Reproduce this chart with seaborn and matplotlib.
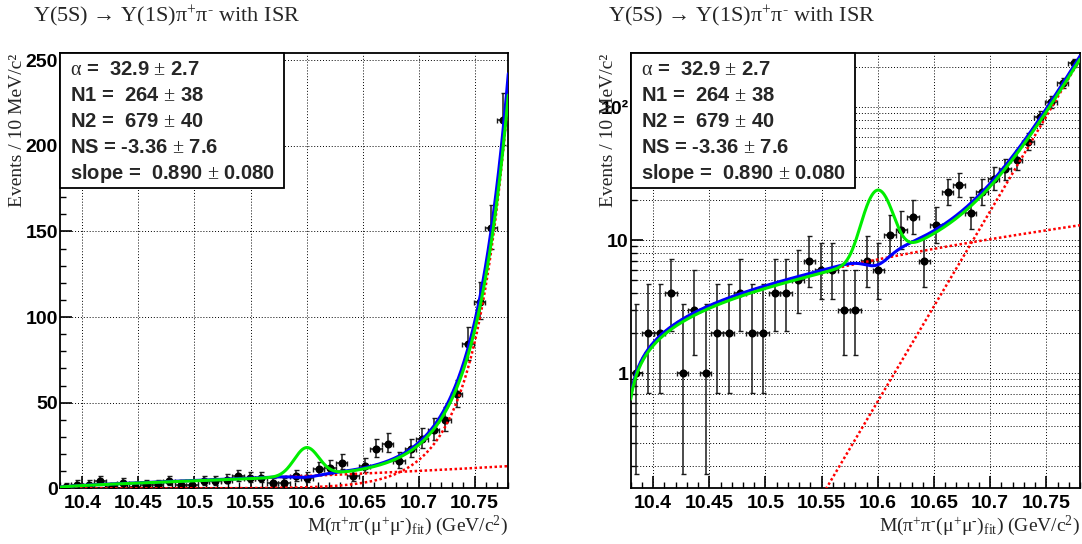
import math
import numpy as np
import pandas as pd
import matplotlib
matplotlib.use("Agg")
import matplotlib.pyplot as plt
import matplotlib.ticker as mticker
from matplotlib.patches import Rectangle
import seaborn as sns

# ---------------- data ----------------
mass_lo, mass_hi, n_bins = 10.38, 10.78, 39
counts = [1, 2, 2, 4, 1, 3, 1, 2, 2, 4,
          2, 2, 4, 4, 5, 7, 6, 6, 3, 3,
          7, 6, 11, 12, 15, 7, 13, 23, 26, 16,
          23, 29, 34, 40, 55, 84, 109, 152, 215]

# fit parameters (nominal fit, blue)
alpha = 32.9
n1 = 264.0
n2 = 679.0
ns = -3.36
peak_mass = 10.60
peak_sigma = 0.011
isr_threshold = 10.376
isr_growth = 1.65
# alternative fit with signal (green)
n1_alt = 252.0
n2_alt = 644.0
ns_alt = 44.0

stat_lines = [r"$\mathrm{\alpha}$ =  32.9 $\pm$ 2.7",
              r"N1 =  264 $\pm$ 38",
              r"N2 =  679 $\pm$ 40",
              r"NS = -3.36 $\pm$ 7.6",
              r"slope =  0.890 $\pm$ 0.080"]
x_major = [10.4, 10.45, 10.5, 10.55, 10.6, 10.65, 10.7, 10.75]
y_major_lin = [0, 50, 100, 150, 200, 250]
log_labels = {1: "1", 10: "10", 100: "10²"}
title_text = "Υ(5S) → Υ(1S)π$^{+}$π$^{\u2010}$ with ISR"
xlabel_text = "M(π$^{+}$π$^{\u2010}$(μ$^{+}$μ$^{\u2010}$)$_{\\mathrm{fit}}$) (GeV/c$^{2}$)"
ylabel_text = "Events / 10 MeV/c²"

# ---------------- derived ----------------
bw = (mass_hi - mass_lo) / n_bins
centers = mass_lo + bw * (np.arange(n_bins) + 0.5)
cnt = np.array(counts, dtype=float)


def pois_cdf(k, mu):
    if k < 0:
        return 0.0
    s, term = 0.0, math.exp(-mu)
    for i in range(k + 1):
        if i > 0:
            term *= mu / i
        s += term
    return s


def bisect(f, lo, hi):
    for _ in range(80):
        mid = 0.5 * (lo + hi)
        if f(mid) > 0:
            lo = mid
        else:
            hi = mid
    return 0.5 * (lo + hi)


q = 0.158655
err_lo, err_hi = [], []
for n in counts:
    up = bisect(lambda m: pois_cdf(n, m) - q, 0.0, n + 50.0)
    lo = 0.0 if n == 0 else bisect(lambda m: pois_cdf(n - 1, m) - (1 - q), 0.0, n + 50.0)
    err_lo.append(n - lo)
    err_hi.append(up - n)

xs = np.linspace(mass_lo, mass_hi, 1200)
g = np.sqrt(xs - isr_threshold) * np.exp(isr_growth * (xs - isr_threshold))
bkg1_shape = bw * g / np.trapezoid(g, xs)
bkg2_shape = bw * alpha * np.exp(alpha * (xs - mass_hi)) / (1 - np.exp(-alpha * (mass_hi - mass_lo)))
sig_shape = bw * np.exp(-0.5 * ((xs - peak_mass) / peak_sigma) ** 2) / (peak_sigma * np.sqrt(2 * np.pi))

curves = pd.DataFrame({
    "x": xs,
    "bkg1": n1 * bkg1_shape,
    "bkg2": n2 * bkg2_shape,
    "total": n1 * bkg1_shape + n2 * bkg2_shape + ns * sig_shape,
    "alt": n1_alt * bkg1_shape + n2_alt * bkg2_shape + ns_alt * sig_shape,
})
points = pd.DataFrame({"x": centers, "y": cnt})

# ---------------- style ----------------
sns.set_theme(style="white")
plt.rcParams["font.family"] = ["Liberation Sans", "DejaVu Sans"]
plt.rcParams["font.weight"] = "bold"
plt.rcParams["mathtext.fontset"] = "custom"
plt.rcParams["mathtext.rm"] = "Liberation Serif:weight=normal"
plt.rcParams["mathtext.it"] = "Liberation Serif:italic:weight=normal"
plt.rcParams["mathtext.bf"] = "Liberation Serif:bold"
plt.rcParams["axes.linewidth"] = 1.3

fig = plt.figure(figsize=(10.82, 5.44), dpi=100)
W, H = 1082.0, 544.0
ax_lin = fig.add_axes([60 / W, 1 - 488.3 / H, 448.3 / W, 435 / H])
ax_log = fig.add_axes([630.7 / W, 1 - 488.3 / H, 449.3 / W, 435 / H])

for ax, is_log in ((ax_lin, False), (ax_log, True)):
    if is_log:
        ax.set_yscale("log")
    ax.errorbar(centers, cnt, yerr=[err_lo, err_hi], xerr=bw / 2, fmt="none",
                ecolor="#1a1a1a", elinewidth=1.1, capsize=1.8, capthick=1.0, zorder=3)
    sns.scatterplot(data=points, x="x", y="y", ax=ax, color="black", s=34,
                    edgecolor="black", linewidth=0, zorder=4, legend=False)
    for col, color, lw, ls, z in (("bkg1", "#ff0000", 1.8, (0, (1, 1)), 5),
                                  ("bkg2", "#ff0000", 1.8, (0, (1, 1)), 5),
                                  ("total", "#0000ff", 2.2, "-", 6),
                                  ("alt", "#00ee00", 2.2, "-", 7)):
        sns.lineplot(data=curves, x="x", y=col, ax=ax, color=color, linewidth=lw,
                     linestyle=ls, sort=False, estimator=None, zorder=z, legend=False)

    ax.set_xlim(mass_lo, mass_hi)
    ax.xaxis.set_major_locator(mticker.FixedLocator(x_major))
    ax.xaxis.set_minor_locator(mticker.MultipleLocator(0.01))
    ax.xaxis.set_major_formatter(mticker.FuncFormatter(lambda v, p: f"{v:g}"))
    if is_log:
        ax.set_ylim(0.136, 254)
        ax.yaxis.set_major_locator(mticker.FixedLocator(list(log_labels.keys())))
        ax.yaxis.set_major_formatter(mticker.FuncFormatter(lambda v, p: log_labels.get(int(round(v)), "")))
        ax.yaxis.set_minor_locator(mticker.LogLocator(base=10, subs=np.arange(2, 10)))
        ax.yaxis.set_minor_formatter(mticker.NullFormatter())
        ax.yaxis.grid(True, which="both", color="black", linestyle=(0, (1, 2)), linewidth=0.7)
    else:
        ax.set_ylim(0, 254)
        ax.yaxis.set_major_locator(mticker.FixedLocator(y_major_lin))
        ax.yaxis.set_minor_locator(mticker.MultipleLocator(10))
        ax.yaxis.grid(True, which="major", color="black", linestyle=(0, (1, 2)), linewidth=0.7)
    ax.xaxis.grid(True, which="major", color="black", linestyle=(0, (1, 2)), linewidth=0.7)
    ax.set_axisbelow(True)
    ax.tick_params(which="both", direction="in", top=False, right=False,
                   bottom=True, left=True, labelsize=14, colors="black")
    ax.tick_params(which="major", length=8.6, width=1.2)
    ax.tick_params(which="minor", length=4.3, width=1.0)
    ax.tick_params(axis="x", pad=5)
    ax.tick_params(axis="y", pad=1.5)
    for s in ax.spines.values():
        s.set_color("black")

    ax.set_xlabel(xlabel_text, fontsize=14, fontweight="normal",
                  fontfamily="Liberation Serif", loc="right")
    ax.xaxis.set_label_coords(1.0, -0.058)
    ax.set_ylabel(ylabel_text, fontsize=14, fontweight="normal",
                  fontfamily="Liberation Serif", loc="top")
    ax.yaxis.set_label_coords(-0.076 if not is_log else -0.030, 1.0)

    box_w = 224.0 / (448.3 if not is_log else 449.3)
    ax.add_patch(Rectangle((0, 1 - 135 / 435), box_w, 135 / 435, transform=ax.transAxes,
                           facecolor="white", edgecolor="black", linewidth=1.3,
                           zorder=10, clip_on=False))
    for i, line in enumerate(stat_lines):
        ax.text(10 / 448.3, 1 - (16 + 26 * i) / 435, line, transform=ax.transAxes,
                fontsize=14.5, fontweight="bold", va="center", ha="left", zorder=11)

fig.text(33 / W, 1 - 16 / H, title_text, fontsize=16, fontweight="normal",
         fontfamily="Liberation Serif", va="center", ha="left")
fig.text(608 / W, 1 - 16 / H, title_text, fontsize=16, fontweight="normal",
         fontfamily="Liberation Serif", va="center", ha="left")

fig.savefig("out.png", dpi=100)
